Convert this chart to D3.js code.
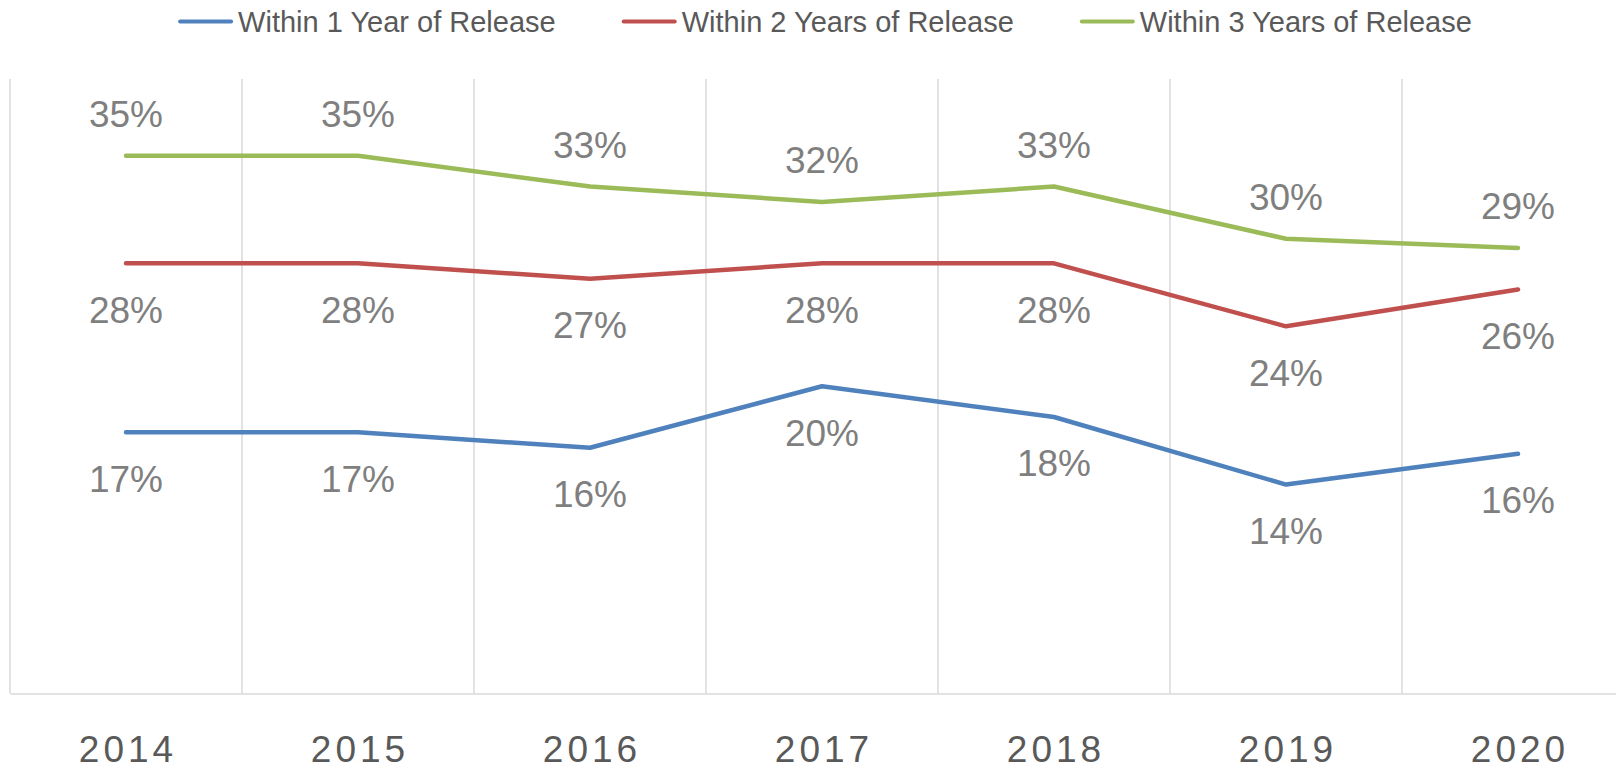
<!DOCTYPE html>
<html>
<head>
<meta charset="utf-8">
<script src="https://cdn.jsdelivr.net/npm/d3@7"></script>
<style>
  body { margin: 0; background: #fff; }
  svg { display: block; font-family: "Liberation Sans", Arial, sans-serif; }
</style>
</head>
<body>
<div id="chart"></div>
<script>
var years = ["2014", "2015", "2016", "2017", "2018", "2019", "2020"];
var seriesNames = ["Within 1 Year of Release", "Within 2 Years of Release", "Within 3 Years of Release"];
var within1 = [0.170, 0.170, 0.160, 0.200, 0.180, 0.136, 0.156];
var within2 = [0.280, 0.280, 0.270, 0.280, 0.280, 0.239, 0.263];
var within3 = [0.350, 0.350, 0.330, 0.320, 0.330, 0.296, 0.290];
var colors = ["#4F81BD", "#C0504D", "#9BBB59"];
var labelSide = ["below", "below", "above"]; // where each series puts its data labels

var series = [within1, within2, within3];

var width = 1616, height = 768;

var svg = d3.select("#chart").append("svg")
    .attr("width", width)
    .attr("height", height);

// plot runs a little past the right edge of the picture, like the original
var x = d3.scaleBand()
    .domain(years)
    .range([10, 1634]);

var y = d3.scaleLinear()
    .domain([0, 0.4])
    .range([693.5, 79]);

var gridColor = "#D9D9D9";

// vertical category lines
var bounds = years.map(function(d) { return x(d); });
bounds.push(x.range()[1]);
svg.append("g")
    .selectAll("line")
    .data(bounds)
    .enter()
    .append("line")
    .attr("x1", function(d) { return d; })
    .attr("x2", function(d) { return d; })
    .attr("y1", y(0.4))
    .attr("y2", y(0))
    .attr("stroke", gridColor)
    .attr("stroke-width", 1.5);

// x axis
var letterSp = 4;
var xAxis = svg.append("g")
    .attr("transform", "translate(0," + y(0) + ")")
    .call(d3.axisBottom(x).tickSize(0).tickPadding(0));
xAxis.select(".domain")
    .attr("stroke", gridColor)
    .attr("stroke-width", 1.5);
xAxis.selectAll("text")
    .attr("y", 0)
    .attr("dy", 0)
    .attr("transform", "translate(" + (letterSp / 2) + "," + (761.5 - y(0)) + ")")
    .attr("font-size", 37)
    .attr("font-family", "'Liberation Sans', Arial, sans-serif")
    .attr("letter-spacing", letterSp)
    .attr("fill", "#595959");

// lines
var line = d3.line()
    .x(function(d, i) { return x(years[i]) + x.bandwidth() / 2; })
    .y(function(d) { return y(d); });

svg.append("g")
    .selectAll("path")
    .data(series)
    .enter()
    .append("path")
    .attr("d", line)
    .attr("fill", "none")
    .attr("stroke", function(d, i) { return colors[i]; })
    .attr("stroke-width", 4.5)
    .attr("stroke-linecap", "round")
    .attr("stroke-linejoin", "round");

// data labels
var fmt = d3.format(".0%");
series.forEach(function(vals, s) {
    svg.append("g")
        .selectAll("text")
        .data(vals)
        .enter()
        .append("text")
        .attr("x", function(d, i) { return x(years[i]) + x.bandwidth() / 2; })
        .attr("y", function(d) {
            return labelSide[s] == "above" ? y(d) - 29 : y(d) + 59.5;
        })
        .attr("text-anchor", "middle")
        .attr("font-size", 37)
        .attr("fill", "#7F7F7F")
        .text(function(d) { return fmt(d); });
});

// legend
var legend = svg.append("g").attr("class", "legend");
var swLen = 55, swGap = 5, itemGap = 66;
var items = legend.selectAll("g.item")
    .data(seriesNames)
    .enter()
    .append("g")
    .attr("class", "item");

items.append("text")
    .attr("x", swLen + swGap)
    .attr("y", 31.5)
    .attr("font-size", 29)
    .attr("fill", "#595959")
    .text(function(d) { return d; });

items.append("line")
    .attr("x1", 2)
    .attr("x2", swLen - 2)
    .attr("y1", 21.5)
    .attr("y2", 21.5)
    .attr("stroke", function(d, i) { return colors[i]; })
    .attr("stroke-width", 4)
    .attr("stroke-linecap", "round");

var offs = [], total = 0;
items.each(function() {
    var w = swLen + swGap + d3.select(this).select("text").node().getComputedTextLength();
    offs.push(total);
    total += w + itemGap;
});
total -= itemGap;
var lx0 = 825 - total / 2;
items.attr("transform", function(d, i) { return "translate(" + (lx0 + offs[i]) + ",0)"; });
</script>
</body>
</html>
